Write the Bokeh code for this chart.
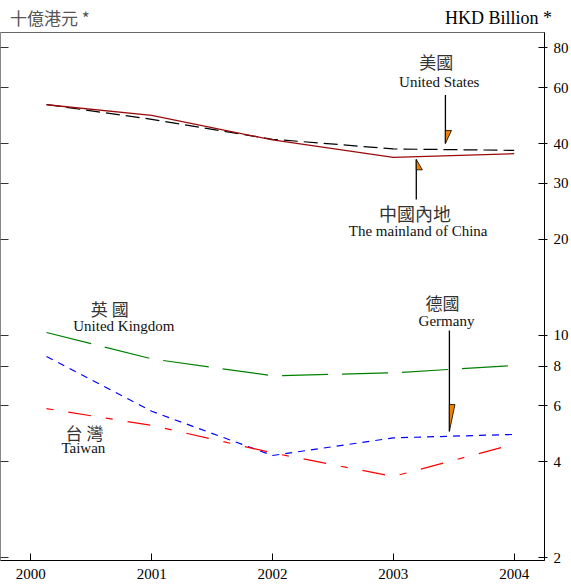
from bokeh.plotting import figure
from bokeh.models import (Range1d, FixedTicker, LogAxis, Label, PrintfTickFormatter,
                          CustomJSTickFormatter, Div)
from bokeh.layouts import column
from bokeh.embed import file_html
from bokeh.resources import INLINE

# ---- data (HKD billion) ----
years = [2000.13, 2001, 2002, 2003, 2004]
china = [53.0, 49.1, 41.1, 36.2, 37.2]
usa = [53.1, 47.7, 41.3, 38.5, 38.1]
uk = [10.2, 8.43, 7.46, 7.62, 8.04]
germany = [8.57, 5.77, 4.19, 4.76, 4.88]
taiwan = [5.88, 5.21, 4.27, 3.60, 4.55]
year_ticks = [2000, 2001, 2002, 2003, 2004]
value_ticks = [2, 4, 6, 8, 10, 20, 30, 40, 60, 80]

SERIF = "Liberation Serif"
CJK = "Noto Sans CJK TC"

p = figure(width=571, height=559, output_backend="svg", toolbar_location=None,
           x_range=Range1d(1999.749, 2004.251), y_range=Range1d(1.96, 89.4),
           y_axis_type="log", min_border_left=0, min_border_right=0,
           min_border_top=4, min_border_bottom=27, margin=(0, 0, 0, 0))
p.xgrid.visible = False
p.ygrid.visible = False
p.outline_line_color = "#666666"
p.background_fill_color = "white"
p.border_fill_color = "white"

# bottom axis
xa = p.xaxis[0]
xa.ticker = FixedTicker(ticks=year_ticks)
xa.major_tick_in = 7
xa.major_tick_out = 0
xa.minor_tick_line_color = None
xa.axis_line_color = "black"
xa.major_label_text_font = SERIF
xa.major_label_text_font_size = "15px"
xa.major_label_text_color = "black"
xa.major_label_standoff = 8

# left axis: ticks only (labels are cut off in the original)
ya = p.yaxis[0]
ya.ticker = FixedTicker(ticks=value_ticks)
ya.formatter = CustomJSTickFormatter(code="return ''")
ya.major_tick_in = 8
ya.major_tick_out = 0
ya.minor_tick_line_color = None
ya.axis_line_color = "#888888"
ya.major_tick_line_color = "#333333"
ya.major_label_standoff = 0

# right axis
ra = LogAxis(ticker=FixedTicker(ticks=value_ticks),
             formatter=PrintfTickFormatter(format="%d"))
ra.major_tick_in = 6
ra.major_tick_out = 3
ra.minor_tick_in = 0
ra.minor_tick_out = 0
ra.minor_tick_line_color = None
ra.axis_line_color = "black"
ra.major_label_text_font = SERIF
ra.major_label_text_font_size = "15px"
ra.major_label_text_color = "black"
ra.major_label_standoff = 6
p.add_layout(ra, "right")

# series
p.line(years, usa, line_color="black", line_width=1.2, line_dash="14 6")
p.line(years, china, line_color="#9b0a0a", line_width=1.3)
p.line(years, uk, line_color="#008000", line_width=1.2, line_dash="46 14")
p.line(years, germany, line_color="#0000ff", line_width=1.2, line_dash="7 6")
p.line(years, taiwan, line_color="#ff0000", line_width=1.2, line_dash="7 15 23 15")

# pointer arrows with orange flags
def pointer(x, y0, y1, tri_x, tri_y):
    p.segment(x0=[x], y0=[y0], x1=[x], y1=[y1], line_color="black", line_width=1.3)
    p.patch(tri_x, tri_y, fill_color="#f08000", line_color="black", line_width=0.8)

pointer(2003.431, 56.9, 40.06, [2003.431, 2003.481, 2003.431], [44.0, 44.0, 40.06])
pointer(2003.19, 35.7, 26.7, [2003.19, 2003.19, 2003.24], [35.7, 33.1, 33.1])
pointer(2003.464, 10.35, 4.99, [2003.464, 2003.51, 2003.464], [6.06, 6.06, 4.99])

def lab(x, y, text, font, size, align="center", color="#111111"):
    p.add_layout(Label(x=x, y=y, text=text, text_font=font, text_font_size=size,
                       text_align=align, text_baseline="middle", text_color=color))

CJK_COLOR = "#333333"
lab(2003.356, 72.5, "美國", CJK, "17px", color=CJK_COLOR)
lab(2003.38, 62.7, "United States", SERIF, "15px")
lab(2003.18, 24.3, "中國內地", CJK, "18px", color=CJK_COLOR)
lab(2003.205, 21.3, "The mainland of China", SERIF, "15px")
lab(2003.406, 12.68, "德國", CJK, "17px", color=CJK_COLOR)
lab(2003.44, 11.05, "Germany", SERIF, "15px")
lab(2000.653, 12.14, "英 國", CJK, "17px", color=CJK_COLOR)
lab(2000.77, 10.66, "United Kingdom", SERIF, "15px")
lab(2000.444, 4.95, "台 灣", CJK, "17px", color=CJK_COLOR)
lab(2000.435, 4.41, "Taiwan", SERIF, "15px")

# unit captions above the frame
caption = Div(
    text=('<div style="position:relative;width:571px;height:28px;">'
          '<span style="position:absolute;left:10px;top:8px;line-height:20px;'
          "font-family:'Noto Sans CJK TC';font-size:17px;color:#555555;white-space:nowrap;\">"
          '十億港元 *</span>'
          '<span style="position:absolute;right:19px;top:8px;line-height:20px;'
          "font-family:'Liberation Serif';font-size:18px;color:#000000;white-space:nowrap;\">"
          'HKD Billion *</span></div>'),
    width=571, height=28, margin=(0, 0, 0, 0))

layout = column(caption, p, spacing=0, margin=(0, 0, 0, 0))

open("out.html", "w").write(file_html(layout, INLINE))
